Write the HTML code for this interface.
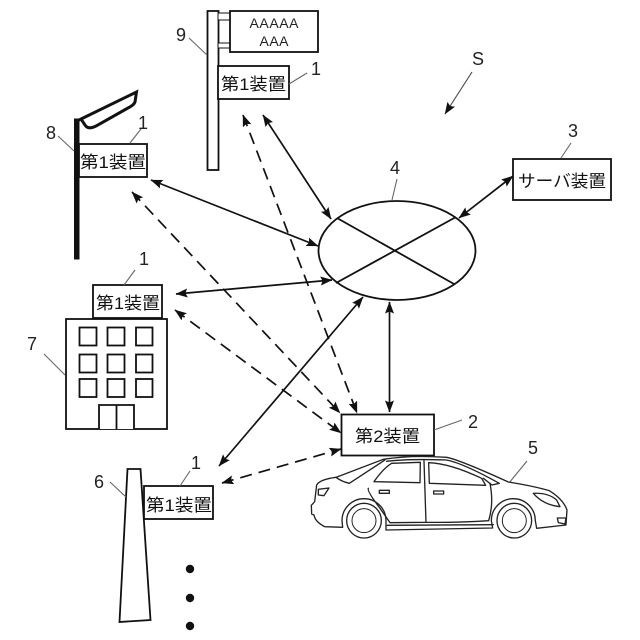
<!DOCTYPE html>
<html><head><meta charset="utf-8"><style>
html,body{margin:0;padding:0;background:#fff}
svg{display:block}
.j{font-family:"Liberation Sans","Noto Sans CJK JP",sans-serif;font-size:17px;fill:#111}
.n{font-family:"Liberation Sans",sans-serif;font-size:18px;fill:#222}
.l{stroke:#666;stroke-width:1.100;fill:none}
.b{fill:#fff;stroke:#111;stroke-width:1.800}
.s{stroke:#111;stroke-width:1.700;fill:none;marker-start:url(#a);marker-end:url(#a)}
.d{stroke:#111;stroke-width:1.700;fill:none;stroke-dasharray:12 7;marker-start:url(#a);marker-end:url(#a)}
</style></head><body>
<svg width="640" height="640" viewBox="0 0 640 640" xmlns="http://www.w3.org/2000/svg">
<defs><marker id="a" viewBox="0 0 12 9" refX="11.500" refY="4.500" markerUnits="userSpaceOnUse" markerWidth="12" markerHeight="9" orient="auto-start-reverse"><path d="M0 0L12 4.500L0 9L2 4.500Z" fill="#111"/></marker></defs>

<!-- sign -->
<rect class="b" x="207.500" y="11" width="11" height="159"/>
<rect class="b" style="stroke-width:1" x="218" y="13" width="12" height="7"/>
<rect class="b" style="stroke-width:1" x="218" y="43" width="12" height="5"/>
<rect class="b" x="230" y="11" width="88" height="41"/>
<text class="n" style="font-size:14px" x="274" y="28" text-anchor="middle" textLength="49">AAAAA</text>
<text class="n" style="font-size:14px" x="274" y="46" text-anchor="middle" textLength="29">AAA</text>
<rect class="b" x="218" y="66" width="71" height="33"/>
<text class="j" x="221" y="90" textLength="65" lengthAdjust="spacingAndGlyphs">第1装置</text>
<text class="n" x="311" y="75">1</text>
<path class="l" d="M289 84L307 73"/>
<text class="n" x="176" y="41">9</text>
<path class="l" d="M189 38L207 55"/>

<!-- street lamp -->
<path d="M74.500 119H79V259H74.500Z" fill="#111" stroke="#111"/>
<path d="M79 120L136.500 92L135 102Q134 105 128 108L96 126Q88 130 85 125L81 119" fill="#fff" stroke="#111" stroke-width="3"/>
<rect class="b" x="79" y="144" width="68" height="33"/>
<text class="j" x="80" y="168" textLength="66" lengthAdjust="spacingAndGlyphs">第1装置</text>
<text class="n" x="138" y="129">1</text>
<path class="l" d="M130 143L141 129"/>
<text class="n" x="46" y="139">8</text>
<path class="l" d="M58 136L74 151"/>

<!-- building -->
<rect class="b" x="93" y="285" width="69" height="33"/>
<text class="j" x="96" y="309" textLength="64" lengthAdjust="spacingAndGlyphs">第1装置</text>
<text class="n" x="139" y="265">1</text>
<path class="l" d="M124 285L135 270"/>
<rect class="b" x="66" y="319" width="101" height="110"/>
<g class="b">
<rect x="79.500" y="327.500" width="17" height="18"/><rect x="107.500" y="327.500" width="17" height="18"/><rect x="136" y="327.500" width="16.500" height="18"/>
<rect x="79.500" y="354.500" width="17" height="18"/><rect x="107.500" y="354.500" width="17" height="18"/><rect x="136" y="354.500" width="16.500" height="18"/>
<rect x="79.500" y="379" width="17" height="18"/><rect x="107.500" y="379" width="17" height="18"/><rect x="136" y="379" width="16.500" height="18"/>
<path d="M99 429V405H134V429M116.500 405V429"/>
</g>
<text class="n" x="27" y="350">7</text>
<path class="l" d="M44 354L65 375"/>

<!-- tall pole -->
<path class="b" d="M127.500 469H140.500L150.500 620L119.500 622Z"/>
<rect class="b" x="144" y="486" width="69" height="33"/>
<text class="j" x="146" y="511" textLength="66" lengthAdjust="spacingAndGlyphs">第1装置</text>
<text class="n" x="191" y="469">1</text>
<path class="l" d="M180 486L190 471"/>
<text class="n" x="94" y="488">6</text>
<path class="l" d="M110 482L126 497"/>
<circle cx="190" cy="569" r="4.200" fill="#111"/><circle cx="190" cy="598" r="4.200" fill="#111"/><circle cx="190" cy="626" r="4.200" fill="#111"/>

<!-- connectors -->
<path class="d" d="M243 115L357 413"/>
<path class="d" d="M132 192L340 413"/>
<path class="d" d="M175 310L341 433"/>
<path class="d" d="M222 483L341 449"/>
<path class="s" d="M151 180L318 246"/>
<path class="s" d="M263 115L331 219"/>
<path class="s" d="M176 294L332 280"/>
<path class="s" d="M219 466L363 297"/>
<path class="s" d="M389.500 302V412"/>
<path class="s" d="M459 218L513 176"/>
<path d="M472 72L445 114" stroke="#444" stroke-width="1.100" fill="none" marker-end="url(#a)"/>

<!-- cloud -->
<ellipse cx="397" cy="250.500" rx="78.500" ry="49.500" fill="#fff" stroke="#111" stroke-width="1.800"/>
<path d="M337 218L454 284M336 283L456 217" stroke="#111" stroke-width="1.800" fill="none"/>
<text class="n" x="390" y="174">4</text>
<path class="l" d="M397 179L392 200"/>

<!-- server -->
<rect class="b" x="513" y="159" width="98" height="41"/>
<text class="j" x="518" y="187" textLength="88" lengthAdjust="spacingAndGlyphs">サーバ装置</text>
<text class="n" x="568" y="137">3</text>
<path class="l" d="M571 143L561 158"/>
<text class="n" x="472" y="65">S</text>

<!-- device 2 -->
<rect class="b" x="341.500" y="414.500" width="92.500" height="41"/>
<text class="j" x="355" y="442" textLength="65" lengthAdjust="spacingAndGlyphs">第2装置</text>
<text class="n" x="468" y="428">2</text>
<path class="l" d="M434 430L462 420"/>
<text class="n" x="528" y="454">5</text>
<path class="l" d="M509 483L527 461"/>

<!-- car -->
<g transform="translate(300 400) scale(.3333)" fill="#fff" stroke="#222" stroke-width="4" stroke-linejoin="round" stroke-linecap="round">
<path d="M42 345L35 342L34 316L44 305L50 255Q60 238 108 232L250 178Q330 165 440 172Q480 180 625 246Q700 258 748 272Q790 298 801 330L798 375L710 385L706 362A66 66 0 0 0 574 362L578 384L258 390L258 362A66 66 0 0 0 126 362L128 382L74 380Q45 365 42 345Z"/>
<path d="M108 232Q125 245 148 250L255 180M260 184Q320 176 440 180Q490 190 598 250L576 255L550 235" fill="none"/>
<path d="M222 245Q250 205 275 190L361 187L360 248Z"/>
<path d="M386 188Q450 190 545 235L557 256L388 250Z"/>
<path d="M205 265Q200 272 240 325L270 368L378 367M372 182L378 367Q480 368 566 362Q582 310 570 250" fill="none"/>
<path d="M262 376L580 374" fill="none"/>
<rect x="238" y="271" width="30" height="9"/>
<rect x="401" y="273" width="30" height="9"/>
<path d="M55 268L87 264L72 287L55 285Z"/>
<path d="M700 280Q745 278 770 300L780 320Q730 315 700 280Z"/>
<path d="M772 354L798 354L795 372L775 368Z"/>
<circle cx="192" cy="362" r="52" stroke-width="4"/>
<circle cx="192" cy="362" r="36" stroke-width="3"/>
<circle cx="643" cy="362" r="52" stroke-width="4"/>
<circle cx="643" cy="362" r="36" stroke-width="3"/>
</g>
</svg>
</body></html>
